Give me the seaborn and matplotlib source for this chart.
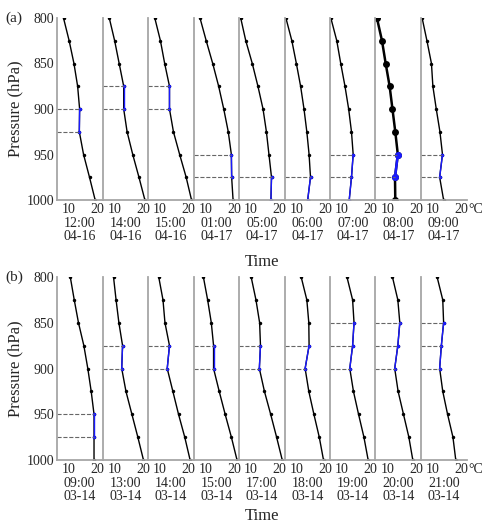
import numpy as np
import pandas as pd
import seaborn as sns
import matplotlib.pyplot as plt

sns.set_style("white")
plt.rcParams['font.family'] = ['Liberation Serif', 'DejaVu Serif']
plt.rcParams['font.size'] = 10

# 气压层 (hPa)
levels = [800, 825, 850, 875, 900, 925, 950, 975, 1000]

# (a) 04-16 ~ 04-17
times_a = ["12:00\n04-16", "14:00\n04-16", "15:00\n04-16", "01:00\n04-17", "05:00\n04-17",
           "06:00\n04-17", "07:00\n04-17", "08:00\n04-17", "09:00\n04-17"]
temps_a = [
    [8.0, 10.0, 11.7, 13.0, 13.7, 13.6, 15.1, 17.2, 19.2],
    [8.1, 10.0, 11.6, 13.2, 13.2, 14.4, 16.4, 18.6, 20.7],
    [8.1, 10.1, 11.6, 13.3, 13.3, 14.7, 16.9, 19.2, 21.1],
    [8.0, 10.2, 12.5, 14.6, 16.4, 18.0, 19.1, 19.2, 19.7],
    [6.3, 8.1, 10.4, 12.4, 14.2, 15.4, 16.3, 17.2, 17.0],
    [6.2, 8.3, 9.9, 11.4, 12.6, 13.6, 14.4, 14.9, 13.9],
    [6.0, 8.1, 9.5, 11.0, 12.3, 13.3, 13.9, 13.3, 12.5],
    [6.2, 8.0, 9.3, 10.7, 11.7, 12.7, 13.6, 12.6, 12.7],
    [6.1, 7.8, 9.4, 9.9, 11.1, 12.4, 13.3, 12.3, 13.7],
]
inv_a = [(900, 925), (875, 900), (875, 900), (950, 975), (975, 1000),
         (975, 1000), (950, 1000), (950, 975), (950, 975)]

# (b) 03-14
times_b = ["09:00\n03-14", "13:00\n03-14", "14:00\n03-14", "15:00\n03-14", "17:00\n03-14",
           "18:00\n03-14", "19:00\n03-14", "20:00\n03-14", "21:00\n03-14"]
temps_b = [
    [10.4, 11.8, 13.3, 15.2, 16.6, 17.8, 18.8, 18.8, 18.8],
    [9.6, 10.5, 11.5, 12.8, 12.5, 14.0, 16.1, 18.2, 20.2],
    [9.5, 11.0, 11.7, 13.3, 12.5, 14.5, 16.5, 18.7, 20.6],
    [9.2, 10.7, 12.0, 12.8, 12.8, 14.8, 16.9, 19.1, 21.1],
    [10.0, 11.7, 13.0, 13.3, 12.9, 14.7, 16.9, 19.0, 21.0],
    [11.6, 13.6, 14.3, 14.4, 13.0, 14.3, 16.1, 18.0, 19.5],
    [11.7, 13.7, 14.2, 13.7, 12.7, 14.0, 15.8, 17.7, 19.2],
    [11.7, 13.6, 14.3, 13.6, 12.5, 13.7, 15.6, 17.5, 18.9],
    [11.4, 13.4, 13.7, 12.9, 12.3, 13.4, 15.1, 17.0, 18.0],
]
inv_b = [(950, 975), (875, 900), (875, 900), (875, 900), (875, 900),
         (875, 900), (850, 900), (850, 900), (850, 900)]

XLIM = (5.7, 21.8)


def draw_row(fig, rect, temps, times, inv, tag, bold=None):
    left, bottom, width, height = rect
    n = len(temps)
    w = width / n
    for i in range(n):
        ax = fig.add_axes([left + i * w, bottom, w, height])
        df = pd.DataFrame({"temp": temps[i], "p": levels})
        lw = 1.8 if i == bold else 1.0
        ms = 5 if i == bold else 2.5
        sns.lineplot(data=df, x="temp", y="p", orient="y", sort=False, estimator=None,
                     color="black", lw=lw, marker="o", markersize=ms,
                     markeredgewidth=0, ax=ax)
        top, bot = inv[i]
        seg = df[(df.p >= top) & (df.p <= bot)]
        sns.lineplot(data=seg, x="temp", y="p", orient="y", sort=False, estimator=None,
                     color="#1a1aff", lw=lw, marker="o", markersize=ms,
                     markeredgewidth=0, ax=ax)
        for p, t in zip(seg["p"], seg["temp"]):
            if p < 1000:
                ax.hlines(p, XLIM[0], t, colors="0.4", linestyles="--", lw=0.8)
        ax.set_xlim(*XLIM)
        ax.set_ylim(1000, 800)
        ax.set_xticks([10, 20])
        ax.set_yticks([800, 850, 900, 950, 1000])
        if i > 0:
            ax.set_yticklabels([])
        ax.set_ylabel("")
        ax.set_xlabel(times[i], labelpad=1, linespacing=1.0)
        ax.tick_params(direction="in", length=2.5, width=0.8, color="0.4", pad=2,
                       labelsize=10)
        for s in ["top", "right"]:
            ax.spines[s].set_visible(False)
        for s in ["left", "bottom"]:
            ax.spines[s].set_color("0.65")
            ax.spines[s].set_linewidth(1.3)
        if i == n - 1:
            ax.annotate("°C", xy=(20, 1000), xytext=(5, -2.5), textcoords="offset points",
                        ha="left", va="top", fontsize=10, annotation_clip=False)
    fig.text(5 / 484, bottom + height, tag, fontsize=11, va="center", ha="left")
    fig.text(15 / 484, bottom + height / 2, "Pressure (hPa)", rotation=90,
             fontsize=12, va="center", ha="center")


fig = plt.figure(figsize=(4.84, 5.25), dpi=100)
draw_row(fig, [57 / 484, 1 - 200 / 525, (466.5 - 57) / 484, 182 / 525],
         temps_a, times_a, inv_a, "(a)", bold=7)
draw_row(fig, [57 / 484, 1 - 460 / 525, (466.5 - 57) / 484, 183 / 525],
         temps_b, times_b, inv_b, "(b)")
fig.text(262 / 484, 1 - 262 / 525, "Time", fontsize=12, ha="center", va="center")
fig.text(262 / 484, 1 - 516 / 525, "Time", fontsize=12, ha="center", va="center")
fig.savefig("out.png", dpi=100)
